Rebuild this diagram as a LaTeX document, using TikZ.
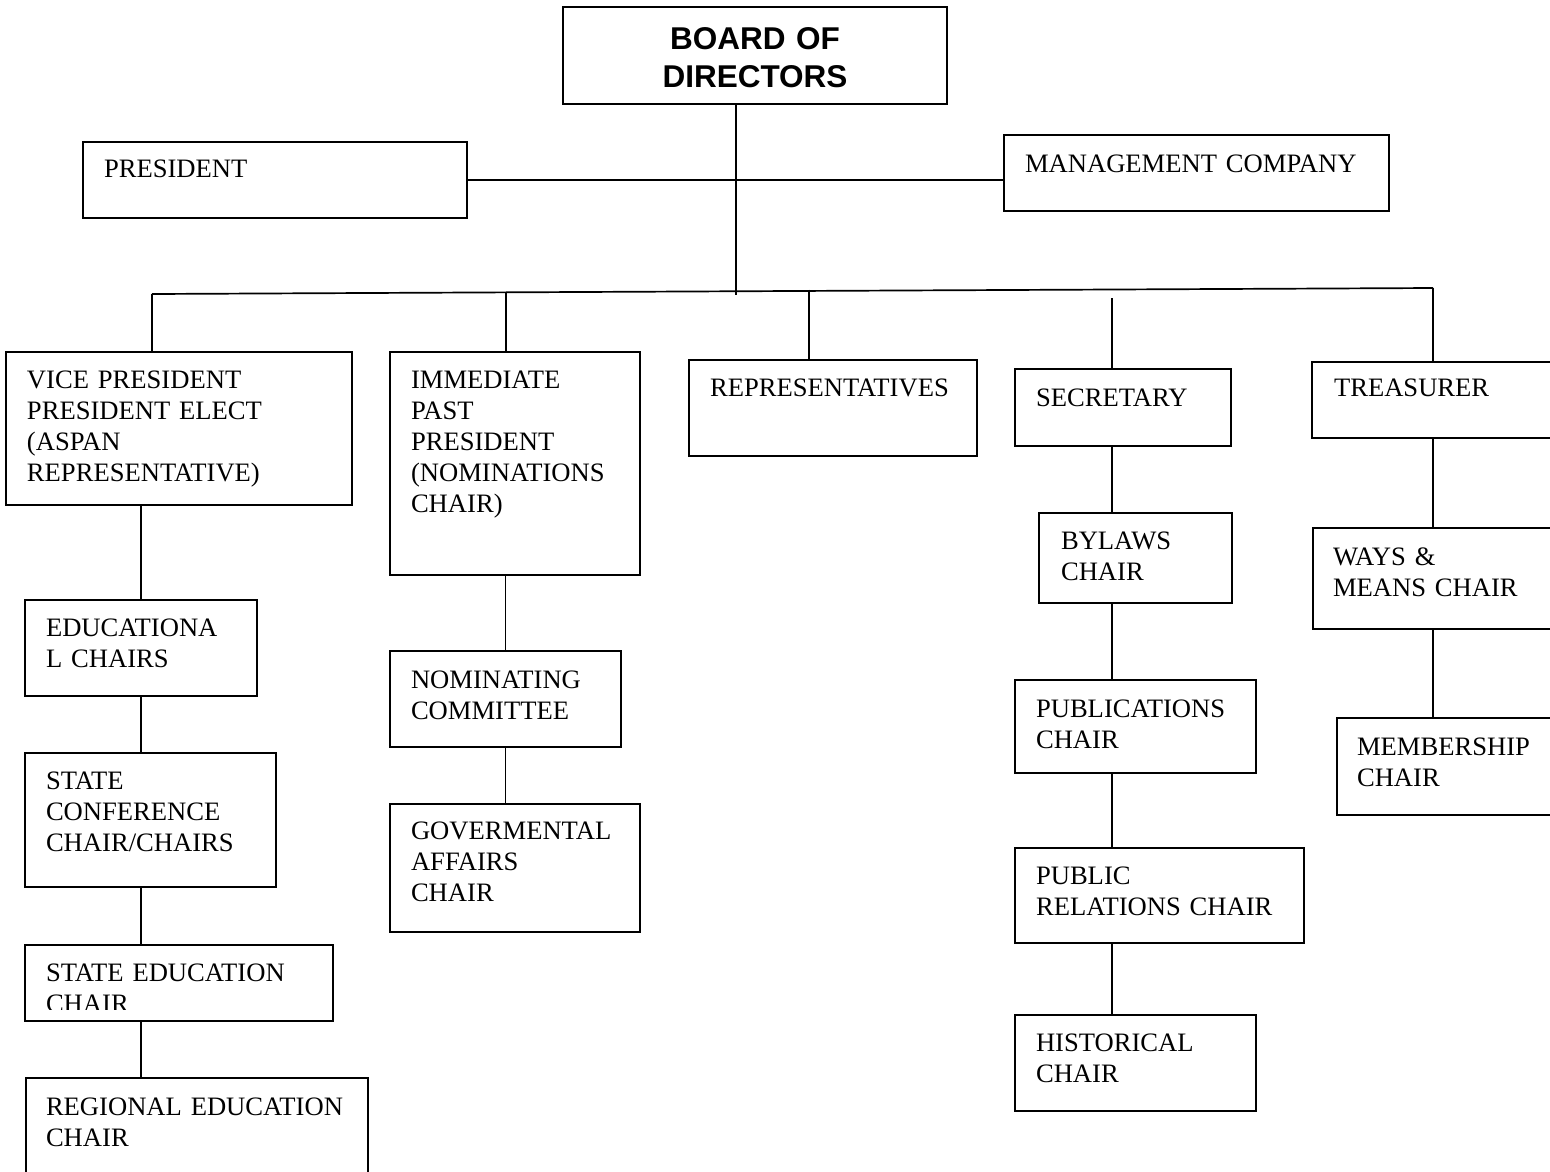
\documentclass[tikz,border=0pt]{standalone}
\usepackage{fontspec}
\setmainfont{Liberation Serif}
\newfontfamily\hdfont{Liberation Sans}
\tikzset{
  orgbox/.style={draw=black, line width=1.7pt, rectangle, anchor=north west, inner sep=0pt, outer sep=0pt},
  orgtxt/.style={anchor=base west, inner sep=0pt, outer sep=0pt, text width=600pt, align=left,
    font=\fontsize{26.6}{31}\selectfont},
  conn/.style={draw=black, line width=1.7pt},
}
\newcommand{\orgnode}[8]{%
  \node[orgbox, minimum width={(#4-#2)*1pt}, minimum height={(#5-#3)*1pt}] (#1) at (#2,#3) {};
  \node[orgtxt] (#1-t) at (#6,#7) {#8};
}
\begin{document}
\begin{tikzpicture}[x=1pt,y=-1pt]
\useasboundingbox[fill=white] (0,0) rectangle (1550,1171);

% top
\node[orgbox, minimum width=384pt, minimum height=97pt] (board) at (563,7) {};
\node[anchor=base, inner sep=0pt, text width=380pt, align=center,
  font=\hdfont\bfseries\fontsize{31.5}{38}\selectfont] (board-t) at (755,49) {BOARD OF\\DIRECTORS};

\orgnode{pres}{83}{142}{467}{218}{104}{177}{PRESIDENT}
\orgnode{mgmt}{1004}{135}{1389}{211}{1025}{172}{MANAGEMENT COMPANY}

% second level
\orgnode{vp}{6}{352}{352}{505}{27}{388}{VICE PRESIDENT\\PRESIDENT ELECT\\(ASPAN\\REPRESENTATIVE)}
\orgnode{ipp}{390}{352}{640}{575}{411}{388}{IMMEDIATE\\PAST\\PRESIDENT\\(NOMINATIONS\\CHAIR)}
\orgnode{rep}{689}{360}{977}{456}{710}{396}{REPRESENTATIVES}
\orgnode{sec}{1015}{369}{1231}{446}{1036}{406}{SECRETARY}
\orgnode{tre}{1312}{362}{1562}{438}{1334}{396}{TREASURER}

% left column
\orgnode{edu}{25}{600}{257}{696}{46}{636}{EDUCATIONA\\L CHAIRS}
\orgnode{sc}{25}{753}{276}{887}{46}{789}{STATE\\CONFERENCE\\CHAIR/CHAIRS}
\node[orgbox, minimum width=308pt, minimum height=76pt] (seb) at (25,945) {};
\begin{scope}
  \clip (seb.north west) rectangle ([yshift=12pt]seb.south east);
  \node[orgtxt] (seb-t) at (46,981) {STATE EDUCATION\\CHAIR};
\end{scope}
\orgnode{reg}{26}{1078}{368}{1195}{46}{1115}{REGIONAL EDUCATION\\CHAIR}

% middle column
\orgnode{nom}{390}{651}{621}{747}{411}{688}{NOMINATING\\COMMITTEE}
\orgnode{gov}{390}{804}{640}{932}{411}{839}{GOVERMENTAL\\AFFAIRS\\CHAIR}

% secretary column
\orgnode{byl}{1039}{513}{1232}{603}{1061}{549}{BYLAWS\\CHAIR}
\orgnode{pub}{1015}{680}{1256}{773}{1036}{717}{PUBLICATIONS\\CHAIR}
\orgnode{pr}{1015}{848}{1304}{943}{1036}{884}{PUBLIC\\RELATIONS CHAIR}
\orgnode{his}{1015}{1015}{1256}{1111}{1036}{1051}{HISTORICAL\\CHAIR}

% treasurer column
\orgnode{way}{1313}{528}{1562}{629}{1333}{565}{WAYS \&\\MEANS CHAIR}
\orgnode{mem}{1337}{718}{1562}{815}{1357}{755}{MEMBERSHIP\\CHAIR}

% junction coordinates
\coordinate (tk) at (736,180);
\coordinate (tkb) at (736,295);
\coordinate (bl) at (152,294);
\coordinate (br) at (1433,288);
\coordinate (ippd) at (506,292.5);
\coordinate (repd) at (809,289.5);
\coordinate (secd) at (1112,298);

% connectors
\draw[conn] (board.south -| tk) -- (tkb);
\draw[conn] (pres.east) -- (pres.east -| mgmt.west);
\draw[conn] (bl) -- (br);
\draw[conn] (bl) -- (bl |- vp.north);
\draw[conn] (ippd) -- (ippd |- ipp.north);
\draw[conn] (repd) -- (repd |- rep.north);
\draw[conn] (secd) -- (secd |- sec.north);
\draw[conn] (br) -- (br |- tre.north);

\draw[conn] (edu.north |- vp.south) -- (edu.north);
\draw[conn] (edu.south) -- (edu.south |- sc.north);
\draw[conn] (edu.south |- sc.south) -- (edu.south |- seb.north);
\draw[conn] (edu.south |- seb.south) -- (edu.south |- reg.north);

\draw[conn] (nom.north |- ipp.south) -- (nom.north);
\draw[conn] (nom.south) -- (nom.south |- gov.north);

\draw[conn] (secd |- sec.south) -- (secd |- byl.north);
\draw[conn] (secd |- byl.south) -- (secd |- pub.north);
\draw[conn] (secd |- pub.south) -- (secd |- pr.north);
\draw[conn] (secd |- pr.south) -- (secd |- his.north);

\draw[conn] (br |- tre.south) -- (br |- way.north);
\draw[conn] (br |- way.south) -- (br |- mem.north);
\end{tikzpicture}
\end{document}
